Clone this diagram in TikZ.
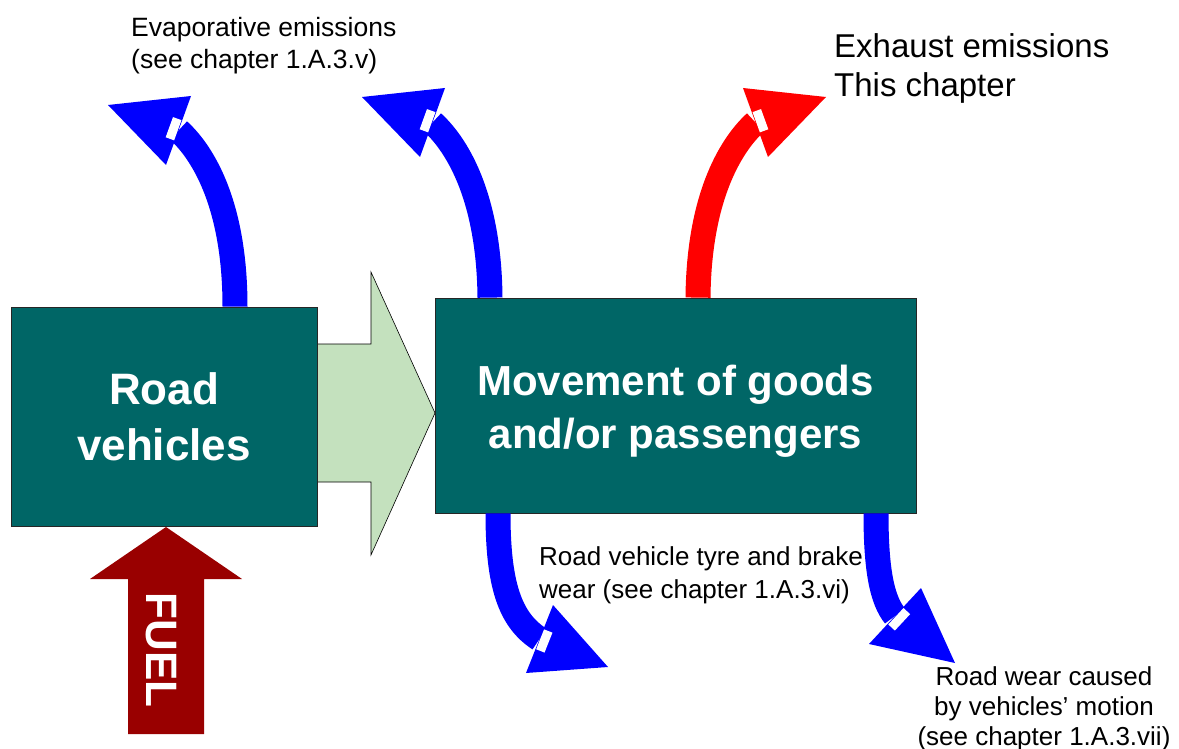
\documentclass[tikz,border=0pt]{standalone}
\usepackage{fontspec}
\setmainfont{Liberation Sans}
\usetikzlibrary{calc}

\definecolor{boxteal}{RGB}{0,102,102}
\definecolor{fuelred}{RGB}{153,0,0}
\definecolor{flowgreen}{RGB}{196,225,190}

\begin{document}
\begin{tikzpicture}[x=1pt, y=-1pt]
    % Define styles for blocks and arrows
    \tikzstyle{bigblock} = [rectangle, draw=black!85, line width=0.8pt, fill=boxteal, text=white, align=center, inner sep=0pt]
    \tikzstyle{note} = [inner sep=0pt, text=black]
    \tikzstyle{shaft} = [line width=25pt]
    \tikzstyle{notch} = [white, line width=9pt]

    \useasboundingbox (0,0) rectangle (1179,749);

    % Flow arrow and fuel arrow
    \filldraw[fill=flowgreen, draw=black, line width=0.6pt] (300,344) -- (371,344) -- (371,272) -- (435,413) -- (371,555) -- (371,482) -- (300,482) -- cycle;
    \fill[fuelred] (128,734) -- (128,579) -- (90,579) -- (166,527) -- (242,579) -- (204,579) -- (204,734) -- cycle;
    \node (fuel) [rotate=-90, text=white, inner sep=0pt, font=\fontsize{44}{44}\selectfont\bfseries] at (161.5,650) {FUEL};

    % Nodes
    \node (road) [bigblock, minimum width=306pt, minimum height=219pt, font=\fontsize{44}{56}\selectfont\bfseries] at (164,416.5) {Road\\vehicles};
    \node (move) [bigblock, minimum width=481pt, minimum height=215pt, font=\fontsize{42}{53}\selectfont\bfseries] at (675.5,405.5) {\rule{0pt}{42pt}Movement of goods\\and/or passengers};

    \node (evaptext) [note, anchor=north west, align=left, font=\fontsize{26.5}{32}\selectfont] at (131,17) {Evaporative emissions\\(see chapter 1.A.3.v)};
    \node (exhtext) [note, anchor=north west, align=left, font=\fontsize{33}{39}\selectfont] at (834,33) {Exhaust emissions\\This chapter};
    \node (tyretext) [note, anchor=north west, align=left, font=\fontsize{26}{33}\selectfont] at (539,546) {Road vehicle tyre and brake\\wear (see chapter 1.A.3.vi)};
    \node (weartext) [note, anchor=north, align=center, font=\fontsize{26}{30}\selectfont] at (1044,666) {Road wear caused\\by vehicles’ motion\\(see chapter 1.A.3.vii)};

    % Arrow heads
    \coordinate (evltip) at (108,105); \coordinate (evlb1) at (191,96); \coordinate (evlb2) at (166,165); \coordinate (evlm) at (178.5,130.5);
    \coordinate (evrtip) at (362,97); \coordinate (evrb1) at (445,88); \coordinate (evrb2) at (420,157); \coordinate (evrm) at (432.5,122.5);
    \coordinate (exhtip) at (826,97); \coordinate (exhb1) at (743,88); \coordinate (exhb2) at (768,157); \coordinate (exhm) at (755.5,122.5);
    \coordinate (tyrtip) at (608,667); \coordinate (tyrb1) at (553,605); \coordinate (tyrb2) at (526,673); \coordinate (tyrm) at (539.5,639);
    \coordinate (rdwtip) at (955,663); \coordinate (rdwb1) at (921,588); \coordinate (rdwb2) at (869,644); \coordinate (rdwm) at (895,616);

    % Arrows
    \draw [shaft, blue] ([xshift=71pt]road.north) .. controls (235,200) and (200,150) .. (evlm);
    \fill [blue] (evltip) -- (evlb1) -- (evlb2) -- cycle;
    \draw [notch] ($(evlm)!0.315!(evlb1)!0.07!(evltip)$) -- ($(evlm)!0.315!(evlb2)!0.07!(evltip)$);

    \draw [shaft, blue] ([xshift=-185.5pt]move.north) .. controls (489,192) and (454,142) .. (evrm);
    \fill [blue] (evrtip) -- (evrb1) -- (evrb2) -- cycle;
    \draw [notch] ($(evrm)!0.315!(evrb1)!0.07!(evrtip)$) -- ($(evrm)!0.315!(evrb2)!0.07!(evrtip)$);

    \draw [shaft, red] ([xshift=22.5pt]move.north) .. controls (699,192) and (734,142) .. (exhm);
    \fill [red] (exhtip) -- (exhb1) -- (exhb2) -- cycle;
    \draw [notch] ($(exhm)!0.315!(exhb1)!0.07!(exhtip)$) -- ($(exhm)!0.315!(exhb2)!0.07!(exhtip)$);

    \draw [shaft, blue] ([xshift=-177.5pt]move.south) .. controls (498,585) and (510,620) .. (tyrm);
    \fill [blue] (tyrtip) -- (tyrb1) -- (tyrb2) -- cycle;
    \draw [notch] ($(tyrm)!0.315!(tyrb1)!0.07!(tyrtip)$) -- ($(tyrm)!0.315!(tyrb2)!0.07!(tyrtip)$);

    \draw [shaft, blue] ([xshift=200.5pt]move.south) .. controls (876,570) and (882,600) .. (rdwm);
    \fill [blue] (rdwtip) -- (rdwb1) -- (rdwb2) -- cycle;
    \draw [notch] ($(rdwm)!0.315!(rdwb1)!0.07!(rdwtip)$) -- ($(rdwm)!0.315!(rdwb2)!0.07!(rdwtip)$);

\end{tikzpicture}
\end{document}
